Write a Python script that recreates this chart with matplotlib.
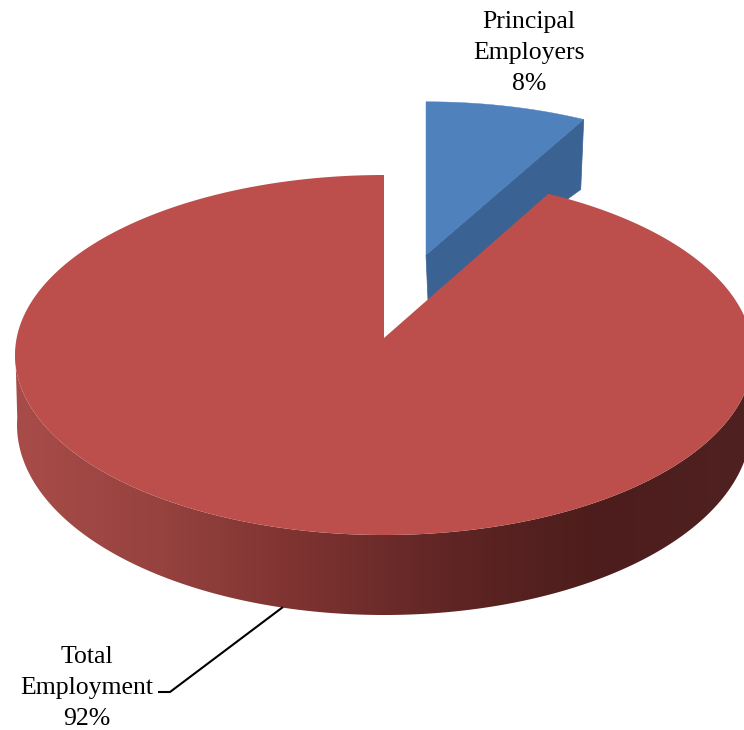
import numpy as np
import matplotlib.pyplot as plt
from matplotlib.colors import LinearSegmentedColormap
from matplotlib.patches import Polygon

labels = ['Principal\nEmployers', 'Total\nEmployment']
values = [8, 92]
top_colors = ['#4f81bd', '#bc4f4c']

plt.rcParams['font.family'] = ['Liberation Serif', 'DejaVu Serif']

# the axes run in image pixels, y going down
fig = plt.figure(figsize=(7.44, 7.30), dpi=100)
ax = fig.add_axes([0, 0, 1, 1])
ax.axis('off')

cx, cy, a, b = 384, 355, 369, 180
depth_cy, depth_a, depth_b = 425, 367, 190
tip = np.array([384, 338])


def rim(theta, center_y=cy, rx=a, ry=b):
    # theta in degrees, clockwise from the top. far side is a bit squashed by perspective
    t = np.radians(theta - 2.8 * np.sin(np.radians(2 * np.asarray(theta))))
    return np.column_stack([cx + rx * np.sin(t), center_y - ry * np.cos(t)])


split = values[0] / sum(values) * 360

# side wall of the big slice, gradient clipped to the wall outline
shade = LinearSegmentedColormap.from_list('wall', [
    (0.0, '#a84c49'), (0.2, '#96423f'), (0.4, '#7c3230'),
    (0.6, '#5f2524'), (0.8, '#4c1d1c'), (1.0, '#4f2120')])
thetas = np.linspace(88, 272, 400)
wall_outline = np.vstack([rim(thetas), rim(thetas[::-1], depth_cy, depth_a, depth_b)])
wall = Polygon(wall_outline, facecolor='none', edgecolor='none', transform=ax.transData)
ax.add_patch(wall)
img = ax.imshow(np.linspace(0, 1, 256).reshape(1, -1), cmap=shade, aspect='auto',
                extent=[15, 745, 730, 0])
img.set_clip_path(wall)

ax.set_xlim(0, 744)
ax.set_ylim(730, 0)

# small slice pulled out and up
blue_tip = np.array([426, 255])
blue_arc = (rim(np.linspace(0, split, 60)) - tip) * np.array([0.96, 0.94]) + blue_tip
blue_side = [blue_tip, blue_arc[-1], blue_arc[-1] + [-3, 70], blue_tip + [2, 45]]
ax.add_patch(Polygon(blue_side, facecolor='#3a6292', edgecolor='#3a6292', lw=0.5))
ax.add_patch(Polygon(np.vstack([blue_tip, blue_arc]), facecolor=top_colors[0], edgecolor=top_colors[0], lw=0.3))

# top of the big slice
red_arc = rim(np.linspace(split, 360, 500))
ax.add_patch(Polygon(np.vstack([tip, red_arc]), facecolor=top_colors[1], edgecolor='none'))

ax.plot([283, 170, 158], [607, 692, 692], color='black', lw=1.5, solid_capstyle='butt')

ax.text(529, 53, f'{labels[0]}\n{values[0]}%', ha='center', va='center',
        fontsize=18.5, linespacing=1.52)
ax.text(87, 688, f'{labels[1]}\n{values[1]}%', ha='center', va='center',
        fontsize=18.5, linespacing=1.52)

fig.savefig('out.png', dpi=100)
